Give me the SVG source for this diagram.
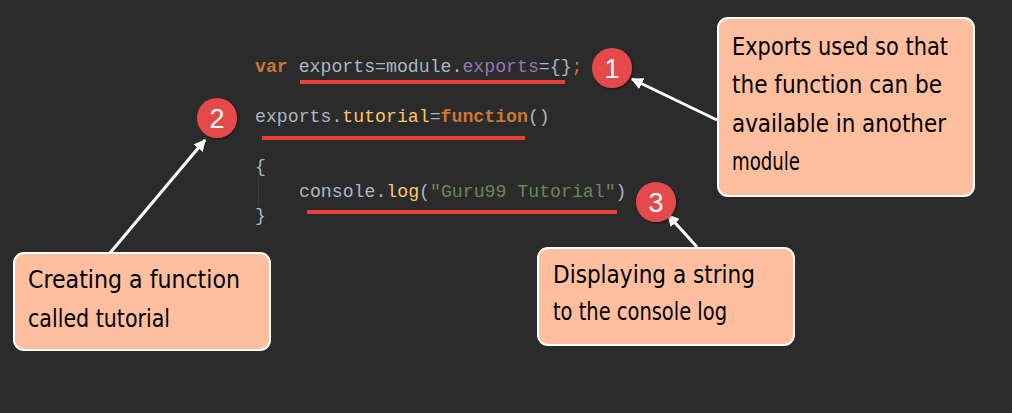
<svg xmlns="http://www.w3.org/2000/svg" width="1012" height="413" viewBox="0 0 1012 413">
<style>
.code{font-family:"Liberation Mono","DejaVu Sans Mono",monospace;font-size:18.2px;fill:#a9b7c6}
.kw{fill:#cc7832}
.kwb{fill:#cc7832;font-weight:bold}
.pu{fill:#9876aa}
.fn{fill:#ffc66d}
.st{fill:#6a8759}
.ul{stroke:#e8403d;stroke-width:4}
.box{fill:#ffbf9f;stroke:#ffffff;stroke-width:2}
.note{font-family:"DejaVu Sans Condensed","DejaVu Sans",sans-serif;font-size:25px;fill:#000}
.badge{fill:#e64848}
.num{font-family:"Liberation Sans",Arial,sans-serif;font-size:27px;fill:#fff;text-anchor:middle}
.arrow{stroke:#fff;stroke-width:3;fill:none;marker-end:url(#ah)}
</style>
<defs>
<marker id="ah" viewBox="0 0 10 10" refX="9" refY="5" markerWidth="4" markerHeight="4" orient="auto" markerUnits="strokeWidth">
<path d="M0,0 L10,5 L0,10 z" fill="#fff"/>
</marker>
<filter id="sh" x="-30%" y="-30%" width="160%" height="160%">
<feDropShadow dx="1" dy="1" stdDeviation="1" flood-color="#000" flood-opacity="0.5"/>
</filter>
</defs>
<rect width="1012" height="413" fill="#2b2b2b"/>
<g id="code">
<text class="code" x="255" y="72"><tspan class="kwb">var</tspan> exports=module.<tspan class="pu">exports</tspan>={}<tspan class="kw">;</tspan></text>
<text class="code" x="255" y="122">exports.<tspan class="fn">tutorial</tspan>=<tspan class="kwb">function</tspan>()</text>
<text class="code" x="255" y="172">{</text>
<line x1="258.5" y1="177" x2="258.5" y2="206" stroke="#3b3b3b" stroke-width="1"/>
<text class="code" x="299" y="197">console.<tspan class="fn">log</tspan>(<tspan class="st">"Guru99 Tutorial"</tspan>)</text>
<text class="code" x="255" y="221">}</text>
</g>
<g id="underlines">
<line class="ul" x1="300" y1="82" x2="565" y2="82"/>
<line class="ul" x1="262" y1="138" x2="525" y2="138"/>
<line class="ul" x1="307" y1="212" x2="617" y2="212"/>
</g>
<g id="connectors">
<line class="arrow" x1="717" y1="120" x2="632" y2="79"/>
<line class="arrow" x1="110" y1="253" x2="205" y2="140"/>
<line class="arrow" x1="697" y1="247" x2="668" y2="215"/>
</g>
<g id="badge1">
<circle class="badge" cx="612" cy="68" r="20" filter="url(#sh)"/>
<text class="num" x="612" y="78">1</text>
</g>
<g id="badge2">
<circle class="badge" cx="217" cy="118" r="20" filter="url(#sh)"/>
<text class="num" x="217" y="128">2</text>
</g>
<g id="badge3">
<circle class="badge" cx="656" cy="202" r="20" filter="url(#sh)"/>
<text class="num" x="656" y="212">3</text>
</g>
<g id="note1">
<rect class="box" x="718" y="18" width="256" height="178" rx="10"/>
<text class="note" x="732" y="55" textLength="216" lengthAdjust="spacingAndGlyphs">Exports used so that</text>
<text class="note" x="732" y="93" textLength="210" lengthAdjust="spacingAndGlyphs">the function can be</text>
<text class="note" x="732" y="132" textLength="214" lengthAdjust="spacingAndGlyphs">available in another</text>
<text class="note" x="732" y="170" textLength="68" lengthAdjust="spacingAndGlyphs">module</text>
</g>
<g id="note2">
<rect class="box" x="14" y="253" width="256" height="97" rx="10"/>
<text class="note" x="28" y="288" textLength="212" lengthAdjust="spacingAndGlyphs">Creating a function</text>
<text class="note" x="28" y="327" textLength="142" lengthAdjust="spacingAndGlyphs">called tutorial</text>
</g>
<g id="note3">
<rect class="box" x="538" y="248" width="256" height="97" rx="10"/>
<text class="note" x="553" y="283" textLength="202" lengthAdjust="spacingAndGlyphs">Displaying a string</text>
<text class="note" x="553" y="320" textLength="174" lengthAdjust="spacingAndGlyphs">to the console log</text>
</g>
</svg>
